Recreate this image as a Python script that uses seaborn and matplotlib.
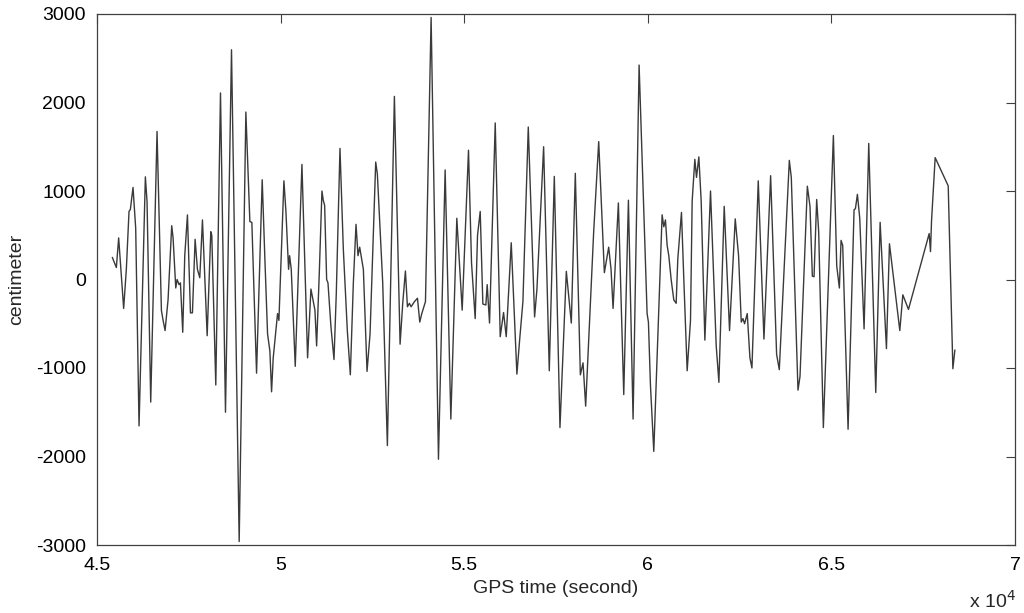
import matplotlib
matplotlib.use("Agg")
import matplotlib.pyplot as plt
import seaborn as sns
import pandas as pd

gps_time = [
    45417, 45527, 45590, 45726, 45799, 45872, 45908, 45981, 46054, 46145,
    46317, 46363, 46463, 46635, 46754, 46799, 46854, 46935, 47035, 47072,
    47145, 47181, 47235, 47272, 47335, 47390, 47463, 47545, 47599, 47672,
    47735, 47799, 47872, 48000, 48099, 48126, 48235,
    48363, 48499, 48663, 48872, 49054, 49163, 49217, 49345, 49499, 49572,
    49645, 49708, 49754, 49799, 49917, 49954, 50090, 50145, 50217, 50245,
    50290, 50399, 50581, 50735, 50826, 50935, 50981, 51054, 51126, 51163,
    51199, 51254, 51290, 51372, 51454, 51517, 51617, 51708, 51817, 51899,
    51981, 52054, 52108, 52154, 52254, 52354, 52436, 52590, 52635, 52781,
    52908, 53099, 53254, 53326, 53399, 53454, 53508, 53554, 53645, 53727,
    53790, 53845, 53945, 54099, 54299, 54481, 54636, 54799, 54945, 55117,
    55199, 55299, 55363, 55436, 55508, 55590, 55626, 55690, 55845, 55981,
    56072, 56145, 56281, 56435, 56508, 56599, 56745, 56917, 56981, 57163,
    57317, 57454, 57608, 57781, 57917, 58026, 58163, 58236, 58308, 58526,
    58663, 58817, 58935, 58999, 59054, 59199, 59345, 59472, 59599, 59763,
    59981, 60017, 60072, 60163, 60390, 60436, 60481, 60527, 60572, 60636,
    60708, 60772, 60817, 60917, 60981, 61072, 61163, 61208, 61281, 61326,
    61390, 61454, 61554, 61708, 61863, 61936, 62081, 62226, 62381, 62472,
    62545, 62590, 62636, 62708, 62781, 62836, 63008, 63163, 63345, 63508,
    63581, 63854, 63908, 64090, 64145, 64345, 64417, 64481, 64527, 64599,
    64654, 64781, 65054, 65145, 65217, 65263, 65308, 65454, 65617, 65654,
    65708, 65772, 65890, 66017, 66208, 66327, 66499, 66581, 66863, 66945,
    67099, 67663, 67699, 67726, 67826, 68181, 68308, 68363,
]

displacement_cm = [
    250, 135, 470, -327, 115, 770, 790, 1040, 577, -1654,
    1160, 880, -1385, 1673, -350, -460, -577, -230, 608, 470,
    -96, 0, -58, -38, -596, 270, 730, -377, -377, 454,
    115, 20, 673, -635, 540, 500, -1192,
    2108, -1500, 2596, -2961, 1892, 654, 646, -1058, 1127, 231,
    -615, -808, -1269, -885, -385, -462, 1115, 769, 115, 269,
    115, -981, 1300, -885, -108, -346, -750, 77, 1000, 892,
    840, 0, -38, -538, -904, -154, 1481, 346, -577, -1077,
    -38, 623, 269, 365, 115, -1038, -615, 1327, 1192, -38,
    -1877, 2069, -731, -269, 96, -308, -269, -308, -250, -212,
    -481, -385, -250, 2961, -2031, 1238, -1577, 692, -346, 1461,
    192, -442, 500, 769, -277, -288, -58, -492, 1769, -646,
    -373, -646, 415, -1069, -692, -250, 1723, -423, -108, 1500,
    -1031, 1165, -1673, 92, -492, 1200, -1077, -942, -1431, 538,
    1558, 77, 365, 115, -327, 865, -1300, 896, -1577, 2423,
    -385, -481, -1192, -1942, 731, 596, 673, 385, 269, 0,
    -231, -269, 231, 758, 0, -1031, -462, 885, 1358, 1154,
    1385, 885, -685, 1000, -750, -1162, 827, -577, 685, 269,
    -481, -442, -500, -385, -885, -1000, 1115, -673, 1173, -846,
    -1019, 1346, 1154, -1250, -1096, 1054, 827, 38, 31, 904,
    538, -1673, 1627, 154, -96, 442, 385, -1692, 788, 800,
    962, 692, -558, 1538, -1277, 646, -781, 404, -577, -173,
    -338, 519, 315, 654, 1377, 1058, -1008, -796,
]

x_ticks = [45000, 50000, 55000, 60000, 65000, 70000]
x_tick_labels = ["4.5", "5", "5.5", "6", "6.5", "7"]
y_ticks = [-3000, -2000, -1000, 0, 1000, 2000, 3000]

sns.set_style("white")
plt.rcParams["font.family"] = ["Liberation Sans", "DejaVu Sans"]

df = pd.DataFrame({"t": gps_time, "v": displacement_cm})

fig = plt.figure(figsize=(10.24, 6.13), dpi=100)
ax = fig.add_axes([97 / 1024, 1 - 545 / 613, 918 / 1024, 531 / 613])

sns.lineplot(data=df, x="t", y="v", ax=ax, color="#3a3a3a", linewidth=1.0,
             estimator=None, sort=False)

ax.set_xlim(45000, 70000)
ax.set_ylim(-3000, 3000)
ax.set_xticks(x_ticks)
ax.set_xticklabels(x_tick_labels)
ax.set_yticks(y_ticks)
ax.set_yticklabels([str(v) for v in y_ticks])
ax.tick_params(direction="in", length=6.5, width=0.8, top=True, right=True,
               labelsize=14, colors="black")
ax.tick_params(axis="x", pad=9)
ax.tick_params(axis="y", pad=8)
ax.tick_params(colors="#404040", labelcolor="black")
for s in ax.spines.values():
    s.set_visible(True)
    s.set_color("#404040")
    s.set_linewidth(0.9)

ax.set_xlabel("GPS time (second)", fontsize=14, labelpad=4)
ax.set_ylabel("centimeter", fontsize=14, labelpad=8)
fig.text(0.946, 1 - 608 / 613, r"x 10$^{4}$", fontsize=14, ha="left", va="baseline")

fig.savefig("out.png", dpi=100, facecolor="white")
